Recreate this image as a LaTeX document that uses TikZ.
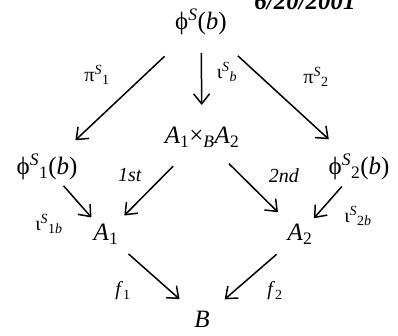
\documentclass[tikz,border=0pt]{standalone}
\usepackage{fontspec}
\setmainfont{Liberation Serif}
\usetikzlibrary{arrows.meta,calc}
\newcommand\Up[1]{\textsuperscript{#1}}
\newcommand\Dn[1]{\textsubscript{#1}}
\newcommand\Arr[4]{\draw[arr] ($(#1)!#3pt!(#2)$) -- ($(#2)!#4pt!(#1)$);}
\begin{document}
\begin{tikzpicture}[x=1pt,y=-1pt,
  obj/.style={font=\fontsize{25}{30}\selectfont, inner sep=3pt},
  lab/.style={font=\fontsize{20}{24}\selectfont, inner sep=0pt},
  arr/.style={-{Straight Barb[length=10pt,width=16pt]}, line width=1.5pt}]
\useasboundingbox (0,0) rectangle (398,335);
\node[obj] (top) at (201,22) {ϕ\Up{\textit{S}}(\textit{b})};
\node[font=\fontsize{25}{30}\selectfont\bfseries\itshape, anchor=base, inner sep=0pt] (date) at (305,9) {6/20/2001};
\node[obj] (prod) at (202,137) {\textit{A}\Dn{1}×\Dn{\textit{B}}\textit{A}\Dn{2}};
\node[obj] (phi1) at (47,167) {ϕ\Up{\textit{S}}\Dn{1}(\textit{b})};
\node[obj] (phi2) at (359,167) {ϕ\Up{\textit{S}}\Dn{2}(\textit{b})};
\node[obj] (A1) at (106,234) {\textit{A}\Dn{1}};
\node[obj] (A2) at (300,234) {\textit{A}\Dn{2}};
\node[obj] (B) at (202,319) {\textit{B}};
\Arr{top}{phi1}{50}{39}
\Arr{top}{prod}{31}{32}
\Arr{top}{phi2}{50}{41}
\Arr{prod}{A1}{41}{26}
\Arr{prod}{A2}{38}{31}
\Arr{phi1}{A1}{25}{22}
\Arr{phi2}{A2}{26}{21}
\Arr{A1}{B}{30}{30}
\Arr{A2}{B}{31}{30}
\node[lab] (l1) at (97,75) {π\Up{\textit{S}}\Dn{1}};
\node[lab] (l2) at (227,72) {ι\Up{\textit{S}}\Dn{\textit{b}}};
\node[lab] (l3) at (316,77) {π\Up{\textit{S}}\Dn{2}};
\node[lab] (l4) at (130,175) {\textit{1st}};
\node[lab] (l5) at (284,176) {\textit{2nd}};
\node[lab] (l6) at (49,224) {ι\Up{\textit{S}}\Dn{1\textit{b}}};
\node[lab] (l7) at (358,216) {ι\Up{\textit{S}}\Dn{2\textit{b}}};
\node[lab] (l8) at (123,291) {\textit{f}\Dn{1}};
\node[lab] (l9) at (275,291) {\textit{f}\Dn{2}};
\end{tikzpicture}
\end{document}
